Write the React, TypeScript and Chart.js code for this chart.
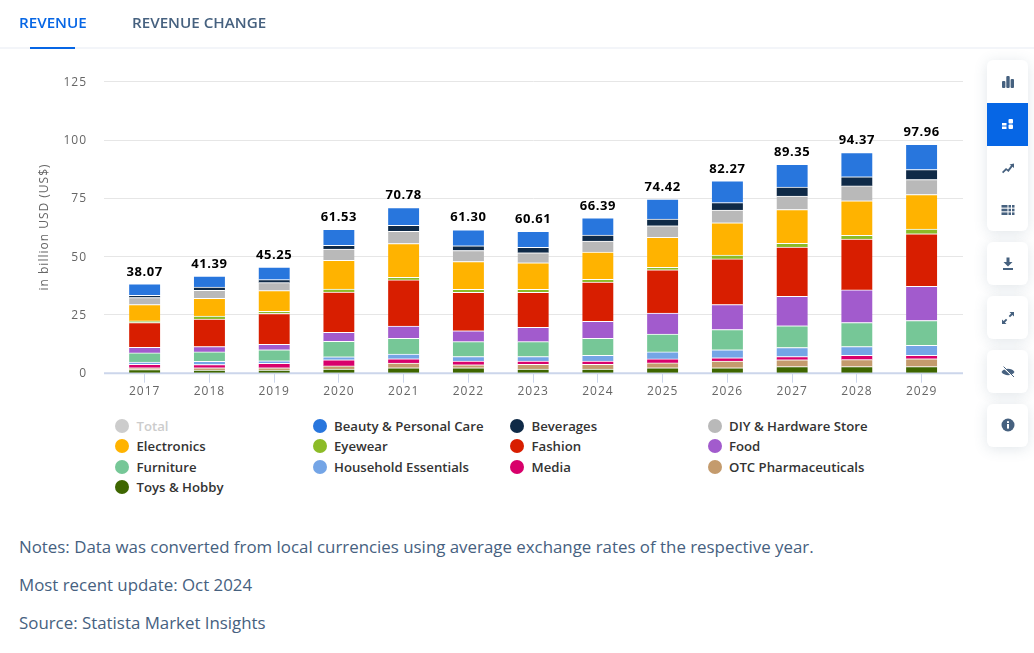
import React, { useEffect, useRef } from "react";
import { Chart, registerables } from "chart.js";

Chart.register(...registerables);

const years = ["2017","2018","2019","2020","2021","2022","2023","2024","2025","2026","2027","2028","2029"];
const total = [38.07,41.39,45.25,61.53,70.78,61.30,60.61,66.39,74.42,82.27,89.35,94.37,97.96];
const toys = [1.3,1.1,1.1,1.6,2.1,2.1,1.6,1.6,2.1,2.1,2.6,2.6,2.6];
const otc = [0.8,1.0,1.0,1.3,2.0,1.3,2.0,2.0,2.1,2.9,2.9,3.0,3.4];
const media = [1.5,1.4,1.9,2.6,1.9,1.6,1.4,1.4,1.7,1.4,1.4,1.9,1.4];
const household = [1.0,1.4,1.1,1.3,2.0,1.9,1.9,2.4,3.0,3.4,3.9,3.7,4.3];
const furniture = [3.9,4.0,4.7,6.6,6.7,6.4,6.4,7.3,7.7,8.7,9.3,10.3,10.7];
const food = [2.4,2.3,2.4,3.9,5.3,4.7,6.2,7.3,9.0,10.7,12.6,14.0,14.6];
const fashion = [10.6,11.8,13.2,17.3,19.8,16.5,15.0,16.9,18.5,19.6,21.2,21.8,22.6];
const eyewear = [0.7,1.3,0.9,1.3,1.1,1.3,1.3,1.1,1.1,1.6,1.6,1.6,2.0];
const electronics = [7.0,7.6,8.9,12.3,14.5,11.9,11.3,11.7,12.9,13.9,14.5,14.8,14.8];
const diy = [3.0,3.4,3.4,4.8,5.2,4.7,4.3,4.7,4.9,5.4,5.7,6.4,6.4];
const beverages = [1.0,1.4,1.3,1.6,2.6,2.0,2.4,2.6,2.9,3.2,3.9,3.9,4.3];
const beauty = [4.87,4.69,5.35,6.93,7.58,6.9,6.81,7.39,8.52,9.37,9.75,10.37,10.86];

const seriesBottomUp = [
  { label: "Toys & Hobby", data: toys, color: "#3e6600" },
  { label: "OTC Pharmaceuticals", data: otc, color: "#c49b6d" },
  { label: "Media", data: media, color: "#d8006b" },
  { label: "Household Essentials", data: household, color: "#74a5e6" },
  { label: "Furniture", data: furniture, color: "#76c797" },
  { label: "Food", data: food, color: "#a25bcd" },
  { label: "Fashion", data: fashion, color: "#d81e00" },
  { label: "Eyewear", data: eyewear, color: "#8cbb27" },
  { label: "Electronics", data: electronics, color: "#ffb300" },
  { label: "DIY & Hardware Store", data: diy, color: "#b9b9b9" },
  { label: "Beverages", data: beverages, color: "#0f2a47" },
  { label: "Beauty & Personal Care", data: beauty, color: "#2876dd" },
];

const legendItems = [
  { label: "Total", color: "#cccccc" },
  ...[...seriesBottomUp].reverse().map((s) => ({ label: s.label, color: s.color })),
];

const notes = [
  "Notes: Data was converted from local currencies using average exchange rates of the respective year.",
  "Most recent update: Oct 2024",
  "Source: Statista Market Insights",
];

const FONT = '"Open Sans", sans-serif';
const SLATE = "#46617f";

const spacing = {
  id: "spacing",
  beforeDraw(chart: any) {
    chart.ctx.letterSpacing = "1px";
  },
};

const fullGrid = {
  id: "fullGrid",
  beforeDatasetsDraw(chart: any) {
    const { ctx, scales } = chart;
    ctx.save();
    ctx.strokeStyle = "#e6e6e6";
    ctx.lineWidth = 1;
    ctx.fillStyle = "#666666";
    ctx.font = `12px ${FONT}`;
    ctx.textAlign = "right";
    ctx.textBaseline = "middle";
    scales.y.ticks.forEach((t: any) => {
      const p = scales.y.getPixelForValue(t.value);
      ctx.fillText(String(t.value), 87, p + 1);
      if (t.value === 0) return;
      const y = Math.round(p) + 0.5;
      ctx.beginPath();
      ctx.moveTo(104, y);
      ctx.lineTo(963, y);
      ctx.stroke();
    });
    ctx.strokeStyle = "#ccd6eb";
    ctx.lineWidth = 2;
    const y0 = scales.y.getPixelForValue(0) + 0.5;
    ctx.beginPath();
    ctx.moveTo(104, y0);
    ctx.lineTo(963, y0);
    ctx.stroke();
    ctx.restore();
  },
};

const totalsLabels = {
  id: "totalsLabels",
  afterDatasetsDraw(chart: any) {
    const { ctx } = chart;
    const meta = chart.getDatasetMeta(seriesBottomUp.length - 1);
    ctx.save();
    ctx.font = `700 13px ${FONT}`;
    ctx.fillStyle = "#000";
    ctx.textAlign = "center";
    ctx.textBaseline = "middle";
    ctx.letterSpacing = "0.6px";
    meta.data.forEach((bar: any, i: number) => {
      ctx.fillText(total[i].toFixed(2), bar.x, bar.y - 12);
    });
    ctx.restore();
  },
};

function Icon({ y, name, active }: { y: number; name: string; active?: boolean }) {
  const c = active ? "#fff" : SLATE;
  const shapes: Record<string, React.ReactNode> = {
    bars: (<><rect x="2" y="7" width="3.4" height="7" rx="1" fill={c} /><rect x="6.3" y="2" width="3.4" height="12" rx="1" fill={c} /><rect x="10.6" y="5" width="3.4" height="9" rx="1" fill={c} /></>),
    stack: (<><rect x="2" y="7" width="4.5" height="2.5" fill={c} /><rect x="2" y="10.5" width="4.5" height="2.5" fill={c} /><rect x="8.5" y="3" width="4.5" height="4.5" rx="1" fill={c} /><rect x="8.5" y="8.5" width="4.5" height="4.5" rx="1" fill={c} /></>),
    trend: (<path d="M2 13 L6 9 L8 10.5 L11 6.5 L9.5 5.5 L14 4.5 L14 9 L12.5 7.8 L8.5 13 L6.3 11.3 L3.2 14.2 Z" fill={c} />),
    table: (<><rect x="1.5" y="3" width="6" height="2.6" fill={c} /><rect x="1.5" y="6.7" width="6" height="2.6" fill={c} /><rect x="1.5" y="10.4" width="6" height="2.6" fill={c} /><rect x="8.5" y="3" width="2.5" height="2.6" fill={c} /><rect x="12" y="3" width="2.5" height="2.6" fill={c} /><rect x="8.5" y="6.7" width="2.5" height="2.6" fill={c} /><rect x="12" y="6.7" width="2.5" height="2.6" fill={c} /><rect x="8.5" y="10.4" width="2.5" height="2.6" fill={c} /><rect x="12" y="10.4" width="2.5" height="2.6" fill={c} /></>),
    download: (<><path d="M6.5 1.5 H9.5 V6 H12.5 L8 10.5 L3.5 6 H6.5 Z" fill={c} /><rect x="3" y="12" width="10" height="2" fill={c} /></>),
    expand: (<path d="M9.5 2 H14 V6.5 L12.4 4.9 L10 7.3 L8.7 6 L11.1 3.6 Z M2 14 V9.5 L3.6 11.1 L6 8.7 L7.3 10 L4.9 12.4 L6.5 14 Z" fill={c} />),
    eye: (<><path d="M1.5 8 C4 3.8 12 3.8 14.5 8 C12 12.2 4 12.2 1.5 8 Z" fill={c} /><path d="M3 3 L13.5 13" stroke="#fff" strokeWidth="1.6" /><path d="M3.6 2.6 L14 13" stroke={c} strokeWidth="1" /></>),
    info: (<><circle cx="8" cy="8" r="6.5" fill={c} /><rect x="7" y="7" width="2" height="4.6" fill="#fff" /><rect x="7" y="4.2" width="2" height="1.8" fill="#fff" /></>),
  };
  return (
    <svg width="16" height="16" viewBox="0 0 16 16" style={{ position: "absolute", left: 1000, top: y - 8 }}>
      {shapes[name]}
    </svg>
  );
}

const panelStyle = (top: number, height: number): React.CSSProperties => ({
  position: "absolute",
  left: 987,
  top,
  width: 41,
  height,
  background: "#fff",
  borderRadius: 6,
  boxShadow: "0 2px 14px rgba(70,97,127,0.16)",
});

export default function App() {
  const ref = useRef<HTMLCanvasElement>(null);

  useEffect(() => {
    if (!ref.current) return;
    const chart = new Chart(ref.current, {
      type: "bar",
      data: {
        labels: years,
        datasets: [
          ...seriesBottomUp.map((s) => ({
            label: s.label,
            data: s.data,
            backgroundColor: s.color,
            borderColor: "#ffffff",
            borderWidth: { top: 1, bottom: 0, left: 0, right: 0 },
            borderSkipped: false,
            barThickness: 31,
            stack: "a",
          })),
          { label: "Total", data: total, hidden: true, backgroundColor: "#cccccc", stack: "b" },
        ],
      },
      options: {
        responsive: false,
        animation: false,
        layout: { padding: { top: 81.2, left: 0, right: 80, bottom: 0 } },
        plugins: { legend: { display: false }, tooltip: { enabled: false } },
        scales: {
          x: {
            stacked: true,
            offset: true,
            afterFit(scale: any) { scale.height = 27.3; },
            border: { display: false },
            grid: { offset: false, drawOnChartArea: false, drawTicks: true, tickLength: 10, tickColor: "#ccd6eb", lineWidth: 1 },
            ticks: { color: "#666666", font: { family: FONT, size: 12 }, padding: 2, maxRotation: 0, autoSkip: false },
          },
          y: {
            stacked: true,
            min: 0,
            max: 125,
            afterFit(scale: any) { scale.width = 112.3; },
            border: { display: false },
            grid: { display: false, drawTicks: false },
            ticks: { stepSize: 25, display: false },
            title: { display: true, text: "in billion USD (US$)", color: "#666666", font: { family: FONT, size: 12 }, padding: { top: 37, bottom: 0 } },
          },
        },
      },
      plugins: [spacing, fullGrid, totalsLabels],
    });
    return () => chart.destroy();
  }, []);

  return (
    <div style={{ position: "absolute", left: 0, top: 0, width: 1034, height: 653, overflow: "hidden", background: "#fff", fontFamily: FONT }}>
      <canvas ref={ref} width={1034} height={400} style={{ position: "absolute", left: 0, top: 0, display: "block" }} />

      <div style={{ position: "absolute", left: 0, top: 47, width: 1034, height: 2, background: "#f3f5f9" }} />
      <div style={{ position: "absolute", left: 30, top: 47, width: 45, height: 2, background: "#0666e5" }} />
      <div style={{ position: "absolute", left: 19, top: 12, fontSize: 15.2, lineHeight: "20px", fontWeight: 600, color: "#0666e5", whiteSpace: "nowrap" }}>REVENUE</div>
      <div style={{ position: "absolute", left: 132, top: 12, fontSize: 15.2, lineHeight: "20px", fontWeight: 600, color: SLATE, whiteSpace: "nowrap" }}>REVENUE CHANGE</div>

      {legendItems.map((item, i) => {
        const col = i % 4;
        const row = Math.floor(i / 4);
        const x = 115 + col * 197.5;
        const y = 425.5 + row * 20.6;
        return (
          <React.Fragment key={item.label}>
            <div style={{ position: "absolute", left: x, top: y - 7, width: 14, height: 14, borderRadius: 7, background: item.color }} />
            <div style={{ position: "absolute", left: x + 21.5, top: y - 10, fontSize: 13.2, lineHeight: "20px", fontWeight: 600, color: i === 0 ? "#cccccc" : "#333333", whiteSpace: "nowrap" }}>{item.label}</div>
          </React.Fragment>
        );
      })}

      {notes.map((n, i) => (
        <div key={n} style={{ position: "absolute", left: 19, top: 535 + i * 38, fontSize: 16.87, lineHeight: "24px", color: SLATE, whiteSpace: "nowrap" }}>{n}</div>
      ))}

      <div style={panelStyle(60, 171)} />
      <div style={{ position: "absolute", left: 987, top: 103, width: 41, height: 43, background: "#0666e5" }} />
      <div style={panelStyle(242, 43)} />
      <div style={panelStyle(296, 43)} />
      <div style={panelStyle(350, 43)} />
      <div style={panelStyle(404, 43)} />
      <Icon y={82} name="bars" />
      <Icon y={124} name="stack" active />
      <Icon y={167} name="trend" />
      <Icon y={210} name="table" />
      <Icon y={264} name="download" />
      <Icon y={318} name="expand" />
      <Icon y={372} name="eye" />
      <Icon y={425} name="info" />
    </div>
  );
}
